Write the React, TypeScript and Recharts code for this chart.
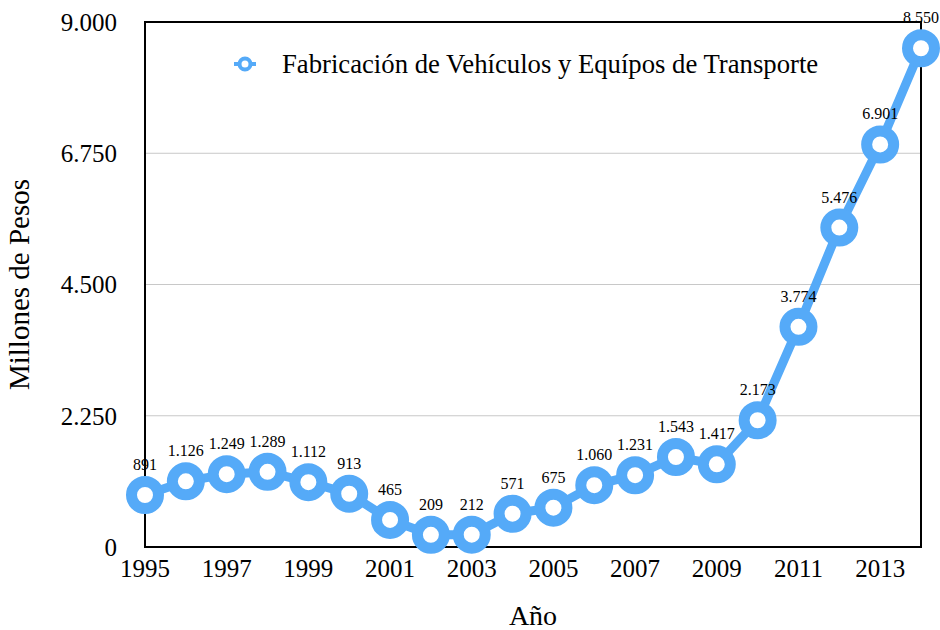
import React from "react";
import {
  LineChart,
  Line,
  XAxis,
  YAxis,
  CartesianGrid,
  ReferenceArea,
  LabelList,
  Legend,
} from "recharts";

const years = [
  1995, 1996, 1997, 1998, 1999, 2000, 2001, 2002, 2003, 2004, 2005, 2006, 2007,
  2008, 2009, 2010, 2011, 2012, 2013, 2014,
];
const values = [
  891, 1126, 1249, 1289, 1112, 913, 465, 209, 212, 571, 675, 1060, 1231, 1543,
  1417, 2173, 3774, 5476, 6901, 8550,
];
const yTicks = [0, 2250, 4500, 6750, 9000];
const xTicks = [1995, 1997, 1999, 2001, 2003, 2005, 2007, 2009, 2011, 2013];
const seriesName = "Fabricación de Vehículos y Equípos de Transporte";

const data = years.map((year, i) => ({ year, value: values[i] }));

const BLUE = "#55AAF8";
const FONT = "'Liberation Serif', 'Times New Roman', serif";

// thousands separator with a dot, like the original
const fmt = (v: number) => String(v).replace(/\B(?=(\d{3})+(?!\d))/g, ".");

function LegendContent() {
  return (
    <div
      style={{
        display: "flex",
        alignItems: "center",
        fontFamily: FONT,
        whiteSpace: "nowrap",
      }}
    >
      <svg width={26} height={16} style={{ marginRight: 24 }}>
        <line x1={2} y1={8} x2={24} y2={8} stroke={BLUE} strokeWidth={4} />
        <circle cx={13} cy={8} r={5.5} fill="#fff" stroke={BLUE} strokeWidth={4} />
      </svg>
      <span style={{ fontSize: 26.7, color: "#000", lineHeight: "32px" }}>
        {seriesName}
      </span>
    </div>
  );
}

export default function App() {
  return (
    <div style={{ position: "absolute", left: 0, top: 0, background: "#fff" }}>
      <LineChart
        width={940}
        height={630}
        data={data}
        margin={{ top: 22, right: 19, bottom: 33, left: 40 }}
      >
        <CartesianGrid vertical={false} stroke="#c8c8c8" strokeWidth={1} />
        <XAxis
          dataKey="year"
          type="number"
          domain={[1995, 2014]}
          ticks={xTicks}
          interval={0}
          height={50}
          tickLine={false}
          tickSize={6}
          tickMargin={6}
          axisLine={{ stroke: "#000", strokeWidth: 2 }}
          tick={{ fill: "#000", fontSize: 25, fontFamily: FONT }}
          label={{
            value: "Año",
            position: "insideBottom",
            offset: -28,
            style: { fill: "#000", fontSize: 28, fontFamily: FONT },
          }}
        />
        <YAxis
          domain={[0, 9000]}
          ticks={yTicks}
          width={105}
          tickLine={false}
          tickSize={6}
          tickMargin={22}
          tickFormatter={fmt}
          axisLine={{ stroke: "#000", strokeWidth: 2 }}
          tick={{ fill: "#000", fontSize: 25, fontFamily: FONT }}
          label={{
            value: "Millones de Pesos",
            angle: -90,
            position: "insideLeft",
            offset: -21,
            style: {
              fill: "#000",
              fontSize: 29,
              fontFamily: FONT,
              textAnchor: "middle",
            },
          }}
        />
        <ReferenceArea
          x1={1995}
          x2={2014}
          y1={0}
          y2={9000}
          fill="none"
          stroke="#000"
          strokeWidth={2}
          fillOpacity={0}
        />
        <Legend
          verticalAlign="middle"
          align="center"
          layout="horizontal"
          content={() => <LegendContent />}
          wrapperStyle={{ top: 48, left: 232, width: "auto" }}
        />
        <Line
          type="linear"
          dataKey="value"
          name={seriesName}
          stroke={BLUE}
          strokeWidth={9}
          dot={{ r: 13.5, strokeWidth: 11, fill: "#fff", stroke: BLUE }}
          activeDot={false}
          isAnimationActive={false}
        >
          <LabelList
            dataKey="value"
            position="top"
            offset={25}
            formatter={(v: any) => fmt(Number(v))}
            style={{ fill: "#000", fontSize: 16, fontFamily: FONT }}
          />
        </Line>
      </LineChart>
    </div>
  );
}
